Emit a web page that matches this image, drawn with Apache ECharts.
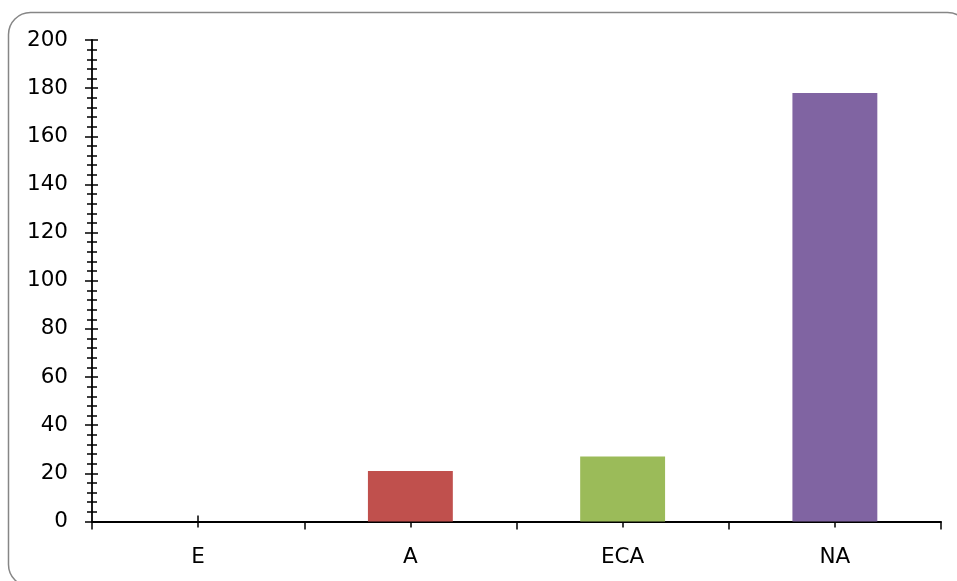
<!DOCTYPE html>
<html>
<head>
<meta charset="utf-8">
<script src="https://cdn.jsdelivr.net/npm/echarts@6/dist/echarts.min.js"></script>
<style>
  html, body { margin: 0; padding: 0; background: #fff; }
  #chart { width: 957px; height: 581px; }
</style>
</head>
<body>
<div id="chart"></div>
<script>
// Category names and counts
const categories = ['E', 'A', 'ECA', 'NA'];
const counts = [0, 21, 27, 178];
const barColors = ['#4F81BD', '#C0504D', '#9BBB59', '#8064A2'];

// Value axis range
const yMin = 0;
const yMax = 200;
const yStep = 20;

const FONT = 'DejaVu Sans';
const AXIS_COLOR = '#000';

const chart = echarts.init(document.getElementById('chart'), null, { renderer: 'canvas' });

// Two copies of each axis (one ticking inward, one outward) give ticks that cross the axis line
const baseY = {
  type: 'value',
  min: yMin,
  max: yMax,
  interval: yStep,
  position: 'left',
  splitLine: { show: false },
  minorSplitLine: { show: false }
};

const option = {
  animation: false,
  backgroundColor: '#fff',
  grid: { left: 92, right: 16, top: 40, bottom: 59.5, containLabel: false },
  graphic: [{
    type: 'rect',
    shape: { x: 8.5, y: 12.5, width: 961, height: 574, r: 22 },
    style: { fill: 'none', stroke: '#868686', lineWidth: 1.5 },
    silent: true,
    z: -10
  }],
  xAxis: [
    {
      type: 'category',
      position: 'bottom',
      data: categories,
      axisLine: { show: true, lineStyle: { color: AXIS_COLOR, width: 1.8 } },
      axisTick: { show: true, inside: false, length: 8, lineStyle: { color: AXIS_COLOR, width: 1.5 } },
      axisLabel: { color: '#000', fontFamily: FONT, fontSize: 21.5, margin: 25 },
      splitLine: { show: false }
    },
    {
      type: 'category',
      position: 'bottom',
      data: categories,
      axisLine: { show: false },
      axisTick: { show: true, inside: true, alignWithLabel: true, length: 6, lineStyle: { color: AXIS_COLOR, width: 1.5 } },
      axisLabel: { show: false },
      splitLine: { show: false }
    },
    {
      type: 'category',
      position: 'bottom',
      data: categories,
      axisLine: { show: false },
      axisTick: { show: true, inside: false, alignWithLabel: true, length: 6, lineStyle: { color: AXIS_COLOR, width: 1.5 } },
      axisLabel: { show: false },
      splitLine: { show: false }
    }
  ],
  yAxis: [
    Object.assign({}, baseY, {
      axisLine: { show: true, lineStyle: { color: AXIS_COLOR, width: 1.8 } },
      axisTick: { show: true, inside: false, length: 7, lineStyle: { color: AXIS_COLOR, width: 1.5 } },
      minorTick: { show: true, splitNumber: 5, length: 5, lineStyle: { color: AXIS_COLOR, width: 1.5 } },
      axisLabel: { color: '#000', fontFamily: FONT, fontSize: 21.5, margin: 24 }
    }),
    Object.assign({}, baseY, {
      axisLine: { show: false },
      axisTick: { show: true, inside: true, length: 6, lineStyle: { color: AXIS_COLOR, width: 1.5 } },
      minorTick: { show: true, splitNumber: 5, length: 5, lineStyle: { color: AXIS_COLOR, width: 1.5 } },
      axisLabel: { show: false }
    })
  ],
  series: [{
    type: 'bar',
    xAxisIndex: 0,
    yAxisIndex: 0,
    barWidth: '40%',
    data: counts.map((v, i) => ({ value: v, itemStyle: { color: barColors[i] } })),
    z: 1
  }]
};

chart.setOption(option);
</script>
</body>
</html>
